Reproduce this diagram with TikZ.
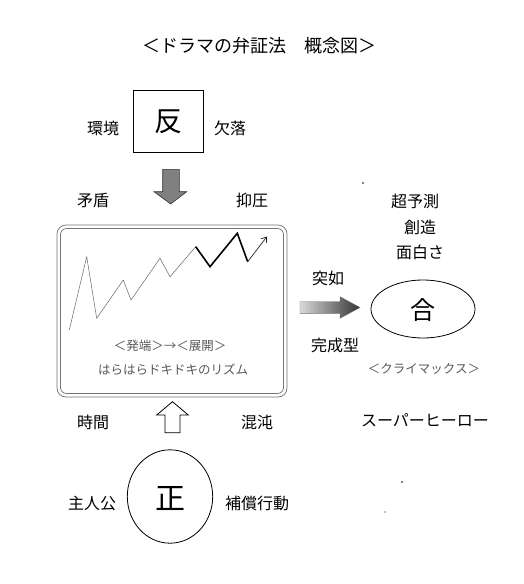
\documentclass[tikz,border=0pt]{standalone}
\usepackage{fontspec}
\setmainfont{Noto Sans CJK JP}
\usetikzlibrary{arrows.meta}
\begin{document}
\begin{tikzpicture}[x=1pt,y=-1pt,
  lbl/.style={inner sep=0pt, font=\fontsize{16}{16}\selectfont},
  small/.style={inner sep=0pt, text=black!65, font=\fontsize{12.5}{12.5}\selectfont},
  big/.style={inner sep=0pt, font=\fontsize{28}{28}\selectfont},
  thinz/.style={line width=0.5pt, black!60, line join=round},
  thickz/.style={line width=1.6pt, black, line join=miter},
  frame/.style={black!55, line width=0.7pt},
  speck/.style={fill=black},
]
\useasboundingbox (0,0) rectangle (524,584);
\fill[white] (0,0) rectangle (524,584);

% title
\node[inner sep=0pt, font=\fontsize{18}{18}\selectfont] (title) at (259,46) {＜ドラマの弁証法　概念図＞};

% top box
\node[draw, line width=0.8pt, minimum width=70pt, minimum height=62pt, inner sep=0pt] (hanbox) at (168,121) {};
\node[big] (han) at (168,122) {反};
\node[lbl] (kankyo) at (103,128) {環境};
\node[lbl] (ketsuraku) at (230,128) {欠落};

% down arrow
\draw[fill=black!50, draw=black!80, line width=0.6pt]
  (162.7,169.3) -- (179.3,169.3) -- (179.3,191.7) -- (186.7,191.7) -- (170.7,204)
  -- (154,191.7) -- (162.7,191.7) -- cycle;
\node[lbl] (mujun) at (93,200) {矛盾};
\node[lbl] (yokuatsu) at (252,200) {抑圧};

% middle frame
\draw[frame, rounded corners=9pt] (57,225) rectangle (287,397);
\draw[frame, rounded corners=6pt] (60.5,228.5) rectangle (283.5,393.5);
\coordinate (z0) at (69.3,330);
\draw[thinz] (z0) -- (86.7,256.7) -- (96.7,318.3) -- (123.3,280) -- (131,300)
  -- (160,258.3) -- (170,276.7) -- (195.7,246.7);
\draw[thickz] (195.7,246.7) -- (210,266.7) -- (237.3,233.3) -- (247.7,261.7);
\coordinate (zend) at (267,236.5);
\draw[line width=0.7pt, black!85, -{Straight Barb[length=5pt,width=7pt]}] (247.7,261.7) -- (zend);
\node[small] (hattan) at (170,346) {＜発端＞→＜展開＞};
\node[small] (rhythm) at (173,370) {はらはらドキドキのリズム};

% right side
\node[lbl] (chouyosoku) at (415,201) {超予測};
\node[lbl] (souzou) at (420,227) {創造};
\node[lbl] (omoshirosa) at (420,252) {面白さ};
\node[lbl] (totsujo) at (328,278) {突如};
\shade[left color=black!15, right color=black!80]
  (300,301.7) -- (340,301.7) -- (340,296.7) -- (360,307.5) -- (340,318.3)
  -- (340,313.3) -- (300,313.3) -- cycle;
\draw[draw=black!55, line width=0.4pt]
  (300,301.7) -- (340,301.7) -- (340,296.7) -- (360,307.5) -- (340,318.3)
  -- (340,313.3) -- (300,313.3) -- cycle;
\draw[line width=0.8pt] (423,309) ellipse [x radius=52, y radius=29];
\node[inner sep=0pt, font=\fontsize{25}{25}\selectfont] (gou) at (423,310) {合};
\node[lbl] (kanseigata) at (335,345) {完成型};
\node[small] (climax) at (424,369) {＜クライマックス＞};
\node[lbl] (superhero) at (425,420) {スーパーヒーロー};

% up arrow
\draw[fill=white, draw=black, line width=0.8pt]
  (165,432.7) -- (180,432.7) -- (180,415) -- (188.3,415) -- (172.5,401.7)
  -- (156.7,415) -- (165,415) -- cycle;
\node[lbl] (jikan) at (93,422) {時間};
\node[lbl] (konton) at (257,422) {混沌};

% bottom circle
\draw[line width=0.8pt] (170,496.5) ellipse [x radius=42.7, y radius=46.7];
\node[inner sep=0pt, font=\fontsize{30}{30}\selectfont] (sei) at (170,499) {正};
\node[lbl] (shujinkou) at (92,503) {主人公};
\node[lbl] (hoshou) at (257,503) {補償行動};

% specks
\fill[speck] (363,183) circle (0.9);
\fill[speck] (402,482) circle (0.9);
\fill[speck] (385,512) circle (0.6);
\end{tikzpicture}
\end{document}
